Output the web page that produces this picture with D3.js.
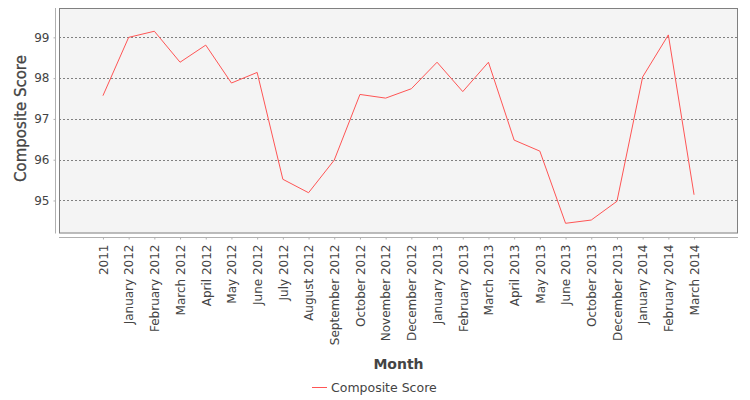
<!DOCTYPE html>
<html>
<head>
<meta charset="utf-8">
<style>
body { margin: 0; background: #fff; }
svg { font-family: "DejaVu Sans", sans-serif; }
</style>
</head>
<body>
<svg width="750" height="400"></svg>
<script src="https://cdn.jsdelivr.net/npm/d3@7"></script>
<script>
// chart data
var months = ["2011", "January 2012", "February 2012", "March 2012", "April 2012", "May 2012",
  "June 2012", "July 2012", "August 2012", "September 2012", "October 2012", "November 2012",
  "December 2012", "January 2013", "February 2013", "March 2013", "April 2013", "May 2013",
  "June 2013", "October 2013", "December 2013", "January 2014", "February 2014", "March 2014"];
var scores = [97.57, 99.0, 99.15, 98.39, 98.81, 97.88, 98.14, 95.52, 95.19, 95.99, 97.6, 97.51,
  97.74, 98.39, 97.67, 98.39, 96.48, 96.21, 94.44, 94.52, 94.98, 98.03, 99.06, 95.14];
var yTicks = [95, 96, 97, 98, 99];
var seriesName = "Composite Score";

// plot area edges (window.top is read only, so no "top" here)
var plotL = 59, plotR = 738, plotT = 8, plotB = 233.5;

var svg = d3.select("svg");

var x = d3.scalePoint().domain(months).range([plotL, plotR]).padding(1.71);
var y = d3.scaleLinear().domain([94.19, 99.72]).range([plotB, plotT]);

// plot background
svg.append("rect")
  .attr("x", plotL).attr("y", plotT)
  .attr("width", plotR - plotL).attr("height", plotB - plotT)
  .attr("fill", "#f4f4f4");

// gridlines
svg.append("g").selectAll("line")
  .data(yTicks)
  .enter().append("line")
  .attr("x1", plotL).attr("x2", plotR)
  .attr("y1", function(d){ return Math.round(y(d)) + 0.5; })
  .attr("y2", function(d){ return Math.round(y(d)) + 0.5; })
  .attr("stroke", "#808080")
  .attr("stroke-width", 1)
  .attr("stroke-dasharray", "2,2");

// plot border
svg.append("rect")
  .attr("x", plotL + 0.5).attr("y", plotT + 0.5)
  .attr("width", plotR - plotL - 1).attr("height", plotB - plotT - 1)
  .attr("fill", "none")
  .attr("stroke", "#808080");

// y axis
var yAxis = svg.append("g")
  .attr("transform", "translate(55.5,0)")
  .call(d3.axisLeft(y).tickValues(yTicks).tickSize(2).tickPadding(4).tickFormat(d3.format("d")));
yAxis.select(".domain").attr("d", "M0," + plotT + "V" + plotB).attr("stroke", "#b0b0b0");
yAxis.selectAll(".tick line").attr("stroke", "#b0b0b0");
yAxis.selectAll("text").attr("font-size", 12).attr("fill", "#444")
  .attr("font-family", "DejaVu Sans, sans-serif");

// x axis
var xAxis = svg.append("g")
  .attr("transform", "translate(0,237.5)")
  .call(d3.axisBottom(x).tickSize(2).tickSizeOuter(0));
xAxis.select(".domain").attr("d", "M" + plotL + ",0H" + plotR).attr("stroke", "#b0b0b0");
xAxis.selectAll(".tick line").attr("stroke", "#b0b0b0");
xAxis.selectAll("text")
  .attr("font-size", 12).attr("fill", "#444")
  .attr("font-family", "DejaVu Sans, sans-serif")
  .attr("transform", "rotate(-90)")
  .attr("text-anchor", "end")
  .attr("x", -7).attr("y", 0).attr("dy", "0.36em");

// the line
var line = d3.line()
  .x(function(d, i){ return x(months[i]); })
  .y(function(d){ return y(d); });

svg.append("path")
  .datum(scores)
  .attr("d", line)
  .attr("fill", "none")
  .attr("stroke", "#ff5555")
  .attr("stroke-width", 1);

// axis titles
svg.append("text")
  .attr("transform", "translate(25.5,118.5) rotate(-90)")
  .attr("text-anchor", "middle")
  .attr("font-size", 15).attr("fill", "#444")
  .attr("stroke", "#444").attr("stroke-width", 0.3)
  .text("Composite Score");

svg.append("text")
  .attr("x", (plotL + plotR) / 2).attr("y", 369)
  .attr("text-anchor", "middle")
  .attr("font-size", 14).attr("font-weight", "bold").attr("fill", "#444")
  .text("Month");

// legend
svg.append("line")
  .attr("x1", 312).attr("x2", 327)
  .attr("y1", 387.5).attr("y2", 387.5)
  .attr("stroke", "#ff5555");
svg.append("text")
  .attr("x", 331).attr("y", 392)
  .attr("font-size", 12.5).attr("fill", "#444")
  .text(seriesName);
</script>
</body>
</html>
